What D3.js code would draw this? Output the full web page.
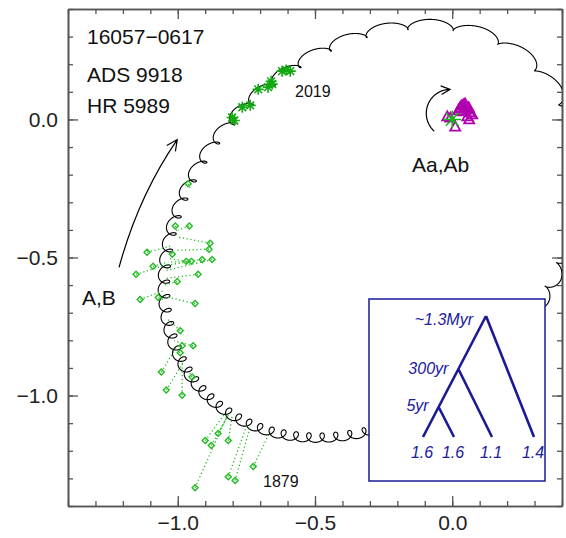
<!DOCTYPE html>
<html><head><meta charset="utf-8">
<script src="https://cdn.jsdelivr.net/npm/d3@7"></script>
<style>
body{margin:0;background:#fff}
svg{display:block}
text{font-family:"Liberation Sans",Arial,Helvetica,sans-serif}
</style>
</head><body>
<svg id="chart" width="566" height="538"></svg>
<script>
// ---------------- data ----------------
const xDomain = [-1.4, 0.4];
const yDomain = [-1.4, 0.4];
const majorTicks = [-1.0, -0.5, 0.0];
const minorTicks = [-1.4,-1.3,-1.2,-1.1,-1.0,-0.9,-0.8,-0.7,-0.6,-0.5,-0.4,-0.3,-0.2,-0.1,0.0,0.1,0.2,0.3,0.4];

// outer orbit A,B (Thiele-Innes style elements, arcsec, years)
const outerOrbit = { P: 307, T: 2047.0, e: 0.6, A: 0.486, B: 0.681, F: 0.729, G: -0.390 };
// photocentre wobble caused by Aa,Ab (5 yr)
const wobble = { P: 5.0, T: 2016.1, e: 0.3, A: 0.0, B: -0.017, F: -0.022, G: 0.0 };
const orbitSpan = [1830, 2138];

// visual (micrometer) measures: observed position and position on orbit
const obsX = [-0.962,-1.009,-0.958,-0.882,-0.886,-1.112,-1.020,-0.969,-0.951,-0.911,-0.875,-1.090,-1.152,-0.926,-1.002,-1.137,-1.071,-0.937,-0.991,-0.984,-0.944,-0.991,-1.060,-0.948,-1.042,-0.984,-0.900,-0.878,-0.853,-0.816,-0.937,-0.816,-0.791,-0.725];
const obsY = [-0.233,-0.386,-0.386,-0.448,-0.470,-0.481,-0.488,-0.514,-0.514,-0.507,-0.507,-0.532,-0.561,-0.561,-0.587,-0.652,-0.645,-0.667,-0.765,-0.820,-0.820,-0.845,-0.915,-0.933,-0.980,-0.999,-1.163,-1.181,-1.137,-1.163,-1.334,-1.294,-1.308,-1.257];
const fitX = [-0.955,-1.002,-0.999,-0.999,-1.009,-1.028,-1.028,-1.035,-1.035,-1.039,-1.042,-1.039,-1.046,-1.046,-1.053,-1.050,-1.046,-1.046,-1.039,-1.009,-1.013,-0.999,-1.002,-0.955,-0.977,-0.984,-0.827,-0.816,-0.816,-0.802,-0.816,-0.747,-0.736,-0.663];
const fitY = [-0.248,-0.408,-0.401,-0.426,-0.474,-0.459,-0.481,-0.503,-0.517,-0.528,-0.547,-0.517,-0.528,-0.576,-0.601,-0.620,-0.656,-0.641,-0.722,-0.820,-0.802,-0.838,-0.820,-0.918,-0.875,-0.882,-1.064,-1.071,-1.071,-1.075,-1.064,-1.104,-1.111,-1.130];

// speckle measures of A,B
const speckleX = [-0.802,-0.794,-0.765,-0.736,-0.707,-0.671,-0.660,-0.656,-0.620,-0.605,-0.590];
const speckleY = [0.007,-0.004,0.044,0.051,0.109,0.117,0.138,0.128,0.175,0.179,0.175];

// measures of inner pair Aa,Ab
const innerX = [-0.007,-0.018,0.029,0.040,0.051,0.058,0.066,0.055,0.062,0.073,0.011,0.036,0.022,0.047,0.033,0.044,0.060,0.026];
const innerY = [0.007,0.011,0.044,0.055,0.047,0.036,0.026,0.011,0.000,0.018,-0.026,0.029,0.033,0.058,0.050,0.040,0.044,0.040];

const titleLines = ["16057\u22120617", "ADS 9918", "HR 5989"];
const epochLabels = ["1879", "2019"];
const pairLabels = ["A,B", "Aa,Ab"];
const treeLeaves = ["1.6", "1.6", "1.1", "1.4"];
const treeNodes = ["5yr", "300yr", "~1.3Myr"];

// ---------------- drawing ----------------
const svg = d3.select("#chart");
const L = 68, R = 562, T = 9, B = 506;
const x = d3.scaleLinear().domain(xDomain).range([L, R]);
const y = d3.scaleLinear().domain(yDomain).range([B, T]);
const fmt = d3.format(".1f");
const axisColor = "#555";

function styleAxis(g){
  g.select(".domain").attr("stroke", axisColor).attr("stroke-width", 1.6);
  g.selectAll(".tick line").attr("stroke", axisColor).attr("stroke-width", 1.3);
  g.selectAll("text").attr("font-size", 21).attr("fill", "#222")
    .attr("font-family", '"Liberation Sans",Arial,sans-serif');
}
svg.append("g").attr("transform", `translate(0,${B})`)
  .call(d3.axisBottom(x).tickValues(majorTicks).tickFormat(fmt).tickSize(-10).tickSizeOuter(0).tickPadding(9))
  .call(styleAxis);
svg.append("g").attr("transform", `translate(${L},0)`)
  .call(d3.axisLeft(y).tickValues(majorTicks).tickFormat(fmt).tickSize(-10).tickSizeOuter(0).tickPadding(10))
  .call(styleAxis);
svg.append("g").attr("transform", `translate(0,${T})`)
  .call(d3.axisTop(x).tickValues(majorTicks).tickFormat("").tickSize(-10).tickSizeOuter(0))
  .call(styleAxis);
svg.append("g").attr("transform", `translate(${R},0)`)
  .call(d3.axisRight(y).tickValues(majorTicks).tickFormat("").tickSize(-10).tickSizeOuter(0))
  .call(styleAxis);
[[d3.axisBottom(x), `translate(0,${B})`], [d3.axisTop(x), `translate(0,${T})`],
 [d3.axisLeft(y), `translate(${L},0)`], [d3.axisRight(y), `translate(${R},0)`]].forEach(([ax, tr]) => {
  svg.append("g").attr("transform", tr)
    .call(ax.tickValues(minorTicks).tickFormat("").tickSize(-5).tickSizeOuter(0))
    .call(styleAxis);
});

svg.append("clipPath").attr("id", "plotclip").append("rect")
  .attr("x", L).attr("y", T).attr("width", R - L).attr("height", B - T);
const plot = svg.append("g").attr("clip-path", "url(#plotclip)");

// Keplerian positions
function kepler(M, e){
  let E = M + e * Math.sin(M);
  for (let i = 0; i < 60; i++) E -= (E - e * Math.sin(E) - M) / (1 - e * Math.cos(E));
  return E;
}
function keplerPos(o, t){
  let M = 2 * Math.PI * (t - o.T) / o.P;
  M = ((M % (2 * Math.PI)) + 2 * Math.PI) % (2 * Math.PI);
  const E = kepler(M, o.e);
  const X = Math.cos(E) - o.e, Y = Math.sqrt(1 - o.e * o.e) * Math.sin(E);
  return [o.A * X + o.F * Y, o.B * X + o.G * Y];
}
function orbitPos(t){
  const p = keplerPos(outerOrbit, t), w = keplerPos(wobble, t);
  return [p[0] + w[0], p[1] + w[1]];
}
const times = d3.range(orbitSpan[0], orbitSpan[1], 0.01);
const orbitPts = times.map(orbitPos);
plot.append("path").datum(orbitPts)
  .attr("d", d3.line().x(d => x(d[0])).y(d => y(d[1])))
  .attr("fill", "none").attr("stroke", "#000").attr("stroke-width", 1.1);

// O-C dotted lines
const green = "#22bb22";
plot.selectAll("line.oc").data(obsX.map((v, i) => i)).join("line")
  .attr("x1", i => x(obsX[i])).attr("y1", i => y(obsY[i]))
  .attr("x2", i => x(fitX[i])).attr("y2", i => y(fitY[i]))
  .attr("stroke", green).attr("stroke-width", 1.3).attr("stroke-dasharray", "1.2,2.6");
plot.selectAll("path.obs").data(obsX.map((v, i) => i)).join("path")
  .attr("d", i => { const cx = x(obsX[i]), cy = y(obsY[i]), r = 3;
    return `M${cx},${cy - r}L${cx + r},${cy}L${cx},${cy + r}L${cx - r},${cy}Z`; })
  .attr("fill", "none").attr("stroke", green).attr("stroke-width", 1.4);

function asterisk(cx, cy, r){
  let d = "";
  for (let k = 0; k < 4; k++){
    const a = k * Math.PI / 4, dx = r * Math.cos(a), dy = r * Math.sin(a);
    d += `M${cx - dx},${cy - dy}L${cx + dx},${cy + dy}`;
  }
  return d;
}
plot.selectAll("path.sp").data(speckleX.map((v, i) => i)).join("path")
  .attr("d", i => asterisk(x(speckleX[i]), y(speckleY[i]), 5.5))
  .attr("stroke", "#11aa11").attr("stroke-width", 1.6).attr("fill", "none");

// inner pair measures
const magenta = "#b000b0";
plot.selectAll("path.in").data(innerX.map((v, i) => i)).join("path")
  .attr("d", i => { const cx = x(innerX[i]), cy = y(innerY[i]), s = 5;
    return `M${cx},${cy - s}L${cx + s},${cy + s * 0.8}L${cx - s},${cy + s * 0.8}Z`; })
  .attr("fill", "none").attr("stroke", magenta).attr("stroke-width", 1.8);
plot.append("path").attr("d", asterisk(x(0), y(0), 9))
  .attr("stroke", "#11bb11").attr("stroke-width", 1.5).attr("fill", "none");

// arrows
function arrowHead(tip, back, size){
  const ang = Math.atan2(tip[1] - back[1], tip[0] - back[0]);
  const a1 = ang + Math.PI - 0.45, a2 = ang + Math.PI + 0.45;
  return `M${tip[0] + size * Math.cos(a1)},${tip[1] + size * Math.sin(a1)}L${tip[0]},${tip[1]}L${tip[0] + size * Math.cos(a2)},${tip[1] + size * Math.sin(a2)}`;
}
{
  const p0 = [x(-1.214), y(-0.536)], c = [x(-1.144), y(-0.279)], p1 = [x(-1.002), y(-0.073)];
  svg.append("path").attr("d", `M${p0[0]},${p0[1]}Q${c[0]},${c[1]} ${p1[0]},${p1[1]}` + arrowHead(p1, c, 12))
    .attr("fill", "none").attr("stroke", "#000").attr("stroke-width", 1.2);
}
{
  const cx = x(-0.007), cy = y(0.022), r = x(0.0875) - x(0);
  const a0 = 132 * Math.PI / 180, a1 = 270 * Math.PI / 180;
  const arc = d3.range(a0, a1 + 0.001, 0.02).map(a => [cx + r * Math.cos(a), cy + r * Math.sin(a)]);
  const tip = arc[arc.length - 1], back = [tip[0] - 5, tip[1] + 0.5];
  svg.append("path").attr("d", d3.line()(arc) + arrowHead(tip, back, 10))
    .attr("fill", "none").attr("stroke", "#000").attr("stroke-width", 1.2);
}

// texts
const tfont = 21;
titleLines.forEach((s, i) => svg.append("text").attr("x", 87).attr("y", [44, 82, 113][i])
  .attr("font-size", tfont).attr("fill", "#111").text(s));
svg.append("text").attr("x", 82).attr("y", 305).attr("font-size", tfont).attr("fill", "#111").text(pairLabels[0]);
svg.append("text").attr("x", 412).attr("y", 172).attr("font-size", tfont).attr("fill", "#111").text(pairLabels[1]);
svg.append("text").attr("x", 263).attr("y", 487).attr("font-size", 16).attr("fill", "#111").text(epochLabels[0]);
svg.append("text").attr("x", 295).attr("y", 97).attr("font-size", 16).attr("fill", "#111").text(epochLabels[1]);

// hierarchy inset
const navy = "#1a1a96";
const inset = svg.append("g");
inset.append("rect").attr("x", 369).attr("y", 299).attr("width", 176).attr("height", 182)
  .attr("fill", "#fff").attr("stroke", navy).attr("stroke-width", 1.5);
const leafY = 437;
const levelY = d3.scaleLinear().domain([0, 1, 2, 3]).range([leafY, 407, 369, 316]);
const leafX0 = 423, apexX = 486;
const along = yy => leafX0 + (apexX - leafX0) * (leafY - yy) / (leafY - levelY(3));
const leafXs = [leafX0, 454, 492, 534];
const nodes = [1, 2, 3].map(l => [along(levelY(l)), levelY(l)]);
let td = `M${leafX0},${leafY}L${nodes[2][0]},${nodes[2][1]}`;
nodes.forEach((n, i) => { td += `M${n[0]},${n[1]}L${leafXs[i + 1]},${leafY}`; });
inset.append("path").attr("d", td).attr("fill", "none").attr("stroke", navy)
  .attr("stroke-width", 2.6).attr("stroke-linejoin", "miter");
treeLeaves.forEach((s, i) => inset.append("text").attr("x", leafXs[i] - 1).attr("y", 458)
  .attr("text-anchor", "middle").attr("font-size", 16).attr("font-style", "italic").attr("fill", "#2020a0").text(s));
const nodeLabelY = [411, 374, 325];
treeNodes.forEach((s, i) => inset.append("text").attr("x", nodes[i][0] - 10 + (i === 2 ? -3 : 0)).attr("y", nodeLabelY[i])
  .attr("text-anchor", "end").attr("font-size", 16).attr("font-style", "italic").attr("fill", "#2020a0").text(s));
</script>
</body></html>
